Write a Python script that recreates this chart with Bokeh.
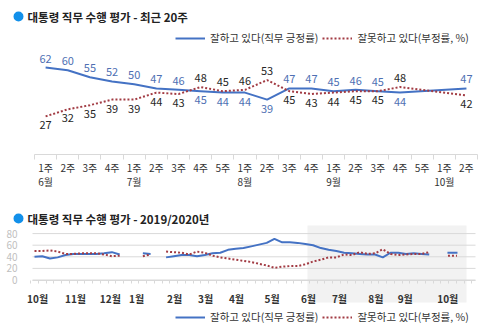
from bokeh.plotting import figure
from bokeh.models import (ColumnDataSource, Range1d, LinearAxis, FixedTicker,
                          Legend, LegendItem, BoxAnnotation)
from bokeh.layouts import column
from bokeh.core.properties import value
from bokeh.embed import file_html
from bokeh.resources import INLINE

FONT = "Noto Sans CJK KR"
BLUE = "#4472c4"
RED = "#a23b43"
POS_TXT = "#4e6fb3"
NEG_TXT = "#262626"
TXT = "#333333"
AXIS = "#d9d9d9"
BULLET = "#1290ea"

# ---------------- data: recent 20 weeks ----------------
week_labels = ["1주", "2주", "3주", "4주", "1주", "2주", "3주", "4주", "5주", "1주",
               "2주", "3주", "4주", "1주", "2주", "3주", "4주", "5주", "1주", "2주"]
month_labels = ["6월", "", "", "", "7월", "", "", "", "", "8월",
                "", "", "", "9월", "", "", "", "", "10월", ""]
approve = [62, 60, 55, 52, 50, 47, 46, 45, 44, 44, 39, 47, 47, 45, 46, 45, 44, None, None, 47]
disapprove = [27, 32, 35, 39, 39, 44, 43, 48, 45, 46, 53, 45, 43, 44, 45, 45, 48, None, None, 42]

# ---------------- data: 2019/2020 weekly (before the recent 20 weeks) ----------------
approve_earlier = [40, 41, 37, 39, 43, 45, 45, 45, 45, 46, 48, 44, None, None, 46, 45, None,
                   39, 41, 43, 43, 41, 43, 46, 47, 52, 54, 55, 58, 61, 64, 71, 65, 65, 64]
disapprove_earlier = [50, 50, 51, 49, 45, 45, 46, 46, 46, 44, 41, 42, None, None, 41, 44, None,
                      49, 48, 47, 44, 49, 47, 42, 39, 37, 35, 33, 31, 28, 25, 21, 23, 24, 24]
year_months = ["10월", "11월", "12월", "1월", "2월", "3월", "4월", "5월", "6월", "7월", "8월", "9월", "10월"]
year_month_ticks = [0.4, 5.3, 9.8, 13.2, 18.1, 22.1, 26.1, 30.7, 35.4, 39.4, 44.1, 47.9, 53.4]
y_ticks = [0, 20, 40, 60, 80]

LABEL_POS = "잘하고 있다(직무 긍정률)"
LABEL_NEG = "잘못하고 있다(부정률, %)"

W, H1, H2 = 500, 200, 133


# ================= top panel =================
def X1(px):
    return (px - 45.1) / 22.15


def Y1(py):
    return (153.5 - py) / 1.395


p1 = figure(width=W, height=H1, x_range=Range1d(X1(0), X1(W)), y_range=Range1d(Y1(H1), Y1(0)),
            x_axis_type=None, y_axis_type=None, toolbar_location=None, output_backend="svg",
            min_border=0, outline_line_color=None)
p1.background_fill_color = "white"
p1.border_fill_color = "white"

n = len(week_labels)
overrides = {}
for i, (w, m) in enumerate(zip(week_labels, month_labels)):
    overrides[i] = w + ("\n" + m if m else "")

xa1 = LinearAxis(fixed_location=0,
                 ticker=FixedTicker(ticks=list(range(n)), minor_ticks=[i - 0.5 for i in range(n + 1)]),
                 major_label_overrides=overrides,
                 bounds=(-0.5, n - 0.5),
                 axis_line_color=AXIS, axis_line_width=1,
                 major_tick_line_color=None,
                 minor_tick_line_color=AXIS, minor_tick_in=0, minor_tick_out=5,
                 major_label_text_font=FONT, major_label_text_font_size="10px",
                 major_label_text_color=TXT, major_label_standoff=0,
                 major_label_text_line_height=0.95)
p1.add_layout(xa1, "below")

xs_pos = [i for i in range(n) if approve[i] is not None]
xs_neg = [i for i in range(n) if disapprove[i] is not None]
l_pos = p1.line(xs_pos, [approve[i] for i in xs_pos], line_color=BLUE, line_width=2)
l_neg = p1.line(xs_neg, [disapprove[i] for i in xs_neg], line_color=RED, line_width=2, line_dash="2 2")

valid = [i for i in range(n) if approve[i] is not None and disapprove[i] is not None]
pos_up = [i for i in valid if approve[i] >= disapprove[i]]
pos_dn = [i for i in valid if approve[i] < disapprove[i]]
neg_up = [i for i in valid if disapprove[i] > approve[i]]
neg_dn = [i for i in valid if disapprove[i] <= approve[i]]


def labels(p, idx, vals, color, off):
    src = ColumnDataSource(dict(x=idx, y=[vals[i] for i in idx], t=[str(vals[i]) for i in idx]))
    p.text("x", "y", text="t", source=src, text_font=value(FONT), text_font_size="11px",
           text_color=color, text_align="center", text_baseline="middle", y_offset=off)


labels(p1, pos_up, approve, POS_TXT, -9)
labels(p1, pos_dn, approve, POS_TXT, 9)
labels(p1, neg_up, disapprove, NEG_TXT, -9)
labels(p1, neg_dn, disapprove, NEG_TXT, 9)

p1.scatter([X1(18)], [Y1(16)], size=10, color=BULLET, line_color=None)
p1.text([X1(27)], [Y1(16)], text=["대통령 직무 수행 평가 - 최근 20주"], text_font=value(FONT),
        text_font_size="11.5px", text_font_style="bold", text_color="#222222",
        text_baseline="middle", text_align="left")

leg1 = Legend(items=[LegendItem(label=LABEL_POS, renderers=[l_pos]),
                     LegendItem(label=LABEL_NEG, renderers=[l_neg])],
              orientation="horizontal", location=(175, 155), border_line_color=None,
              background_fill_alpha=0, glyph_width=30, glyph_height=14, label_height=14,
              label_standoff=5, spacing=4, padding=0, margin=0,
              label_text_font=FONT, label_text_font_size="10.5px", label_text_color=TXT)
p1.add_layout(leg1)


# ================= bottom panel =================
def X2(px):
    return (px - 34) / 7.74


def Y2(py):
    return (279.5 - py) / 0.58


p2 = figure(width=W, height=H2, x_range=Range1d(X2(0), X2(W)), y_range=Range1d(Y2(H1 + H2), Y2(H1)),
            x_axis_type=None, y_axis_type=None, toolbar_location=None, output_backend="svg",
            min_border=0, outline_line_color=None)
p2.background_fill_color = "white"
p2.border_fill_color = "white"

shade = BoxAnnotation(left=X2(307), right=X2(466), bottom=Y2(302), top=Y2(225),
                      fill_color="#f2f2f2", fill_alpha=1, line_color=None, level="underlay")
p2.add_layout(shade)

p2.segment(x0=[X2(32)] * len(y_ticks), x1=[X2(475)] * len(y_ticks), y0=y_ticks, y1=y_ticks,
           line_color=AXIS, line_width=1)

ya2 = LinearAxis(fixed_location=X2(28), ticker=FixedTicker(ticks=y_ticks),
                 axis_line_color=None, major_tick_line_color=None, minor_tick_line_color=None,
                 major_label_text_color="#bfbfbf", major_label_text_font_size="10px",
                 major_label_text_font=FONT, major_label_standoff=5)
p2.add_layout(ya2, "left")

year_pos = approve_earlier + approve
year_neg = disapprove_earlier + disapprove
N = len(year_pos)
nan = float("nan")
xa2 = LinearAxis(fixed_location=0,
                 ticker=FixedTicker(ticks=year_month_ticks, minor_ticks=[i - 0.5 for i in range(N + 3)]),
                 major_label_overrides={t: m for t, m in zip(year_month_ticks, year_months)},
                 bounds=(X2(32), X2(475)),
                 axis_line_color=AXIS, major_tick_line_color=None,
                 minor_tick_line_color=AXIS, minor_tick_in=0, minor_tick_out=3,
                 major_label_text_font=FONT, major_label_text_font_size="10px",
                 major_label_text_font_style="bold", major_label_text_color=TXT,
                 major_label_standoff=5)
p2.add_layout(xa2, "below")

yp = [v if v is not None else nan for v in year_pos]
yn = [v if v is not None else nan for v in year_neg]
b_pos = p2.line(list(range(N)), yp, line_color=BLUE, line_width=2)
b_neg = p2.line(list(range(N)), yn, line_color=RED, line_width=2, line_dash="2 2")


def isolated(vals):
    out = []
    for i, v in enumerate(vals):
        if v is None:
            continue
        left = vals[i - 1] if i > 0 else None
        right = vals[i + 1] if i < len(vals) - 1 else None
        if left is None and right is None:
            out.append(i)
    return out


ip = isolated(year_pos)
ineg = isolated(year_neg)
p2.scatter(ip, [year_pos[i] for i in ip], marker="dash", size=10, line_color=BLUE, line_width=2)
p2.scatter(ineg, [year_neg[i] for i in ineg], marker="dash", size=9, line_color=RED, line_width=2,
           line_dash="2 2")

p2.scatter([X2(18)], [Y2(218)], size=10, color=BULLET, line_color=None)
p2.text([X2(27)], [Y2(218)], text=["대통령 직무 수행 평가 - 2019/2020년"], text_font=value(FONT),
        text_font_size="11.5px", text_font_style="bold", text_color="#222222",
        text_baseline="middle", text_align="left")

leg2 = Legend(items=[LegendItem(label=LABEL_POS, renderers=[b_pos]),
                     LegendItem(label=LABEL_NEG, renderers=[b_neg])],
              orientation="horizontal", location=(175, 9), border_line_color=None,
              background_fill_alpha=0, glyph_width=30, glyph_height=14, label_height=14,
              label_standoff=5, spacing=4, padding=0, margin=0,
              label_text_font=FONT, label_text_font_size="10.5px", label_text_color=TXT)
p2.add_layout(leg2)

layout = column(p1, p2, spacing=0)
open("out.html", "w").write(file_html(layout, INLINE))
